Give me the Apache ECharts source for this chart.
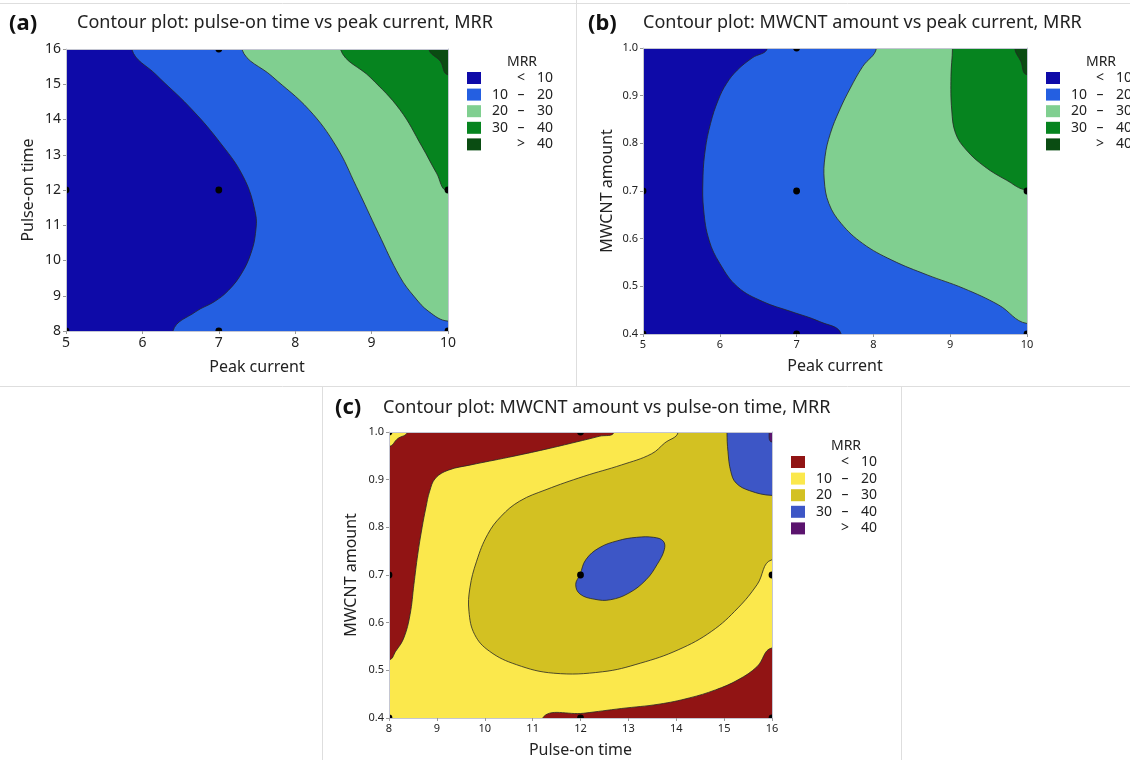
<!DOCTYPE html>
<html>
<head>
<meta charset="utf-8">
<title>MRR contour plots</title>
<script src="https://cdn.jsdelivr.net/npm/echarts@6/dist/echarts.min.js"></script>
<style>
  html, body { margin: 0; padding: 0; background: #fff; }
  #chart { width: 1130px; height: 760px; }
</style>
</head>
<body>
<div id="chart"></div>
<script>
// ---------- axis ticks ----------
const peakCurrentTicks = [5, 6, 7, 8, 9, 10];
const pulseOnTicks = [8, 9, 10, 11, 12, 13, 14, 15, 16];
const mwcntTicks = [0.4, 0.5, 0.6, 0.7, 0.8, 0.9, 1.0];

// MRR contour levels (legend classes: <10, 10-20, 20-30, 30-40, >40)
const mrrLevels = [10, 20, 30, 40];

// ---------- (a) pulse-on time vs peak current : contour lines [peak current, pulse-on time] ----------
const aLine10 = [[5.86, 16], [6.18, 15.27], [6.61, 14.37], [6.99, 13.42], [7.32, 12.38], [7.48, 11.34], [7.48, 10.77], [7.42, 10.2], [7.3, 9.64], [7.13, 9.16], [6.94, 8.83], [6.7, 8.55], [6.4, 8]];
const aLine20 = [[7.3, 16], [7.7, 15.22], [8.18, 14.28], [8.54, 13.23], [8.8, 12.1], [9.09, 10.77], [9.37, 9.54], [9.56, 8.97], [9.75, 8.55], [10, 8.28]];
const aLine30 = [[8.59, 16], [8.99, 15.18], [9.37, 14.28], [9.66, 13.23], [9.85, 12.48], [10, 11.96]];
const aLine40 = [[9.75, 16], [9.9, 15.65], [10, 15.27]];
const aDesignPoints = [[5, 8], [5, 12], [7, 8], [7, 12], [7, 16], [10, 8], [10, 12]];

// ---------- (b) MWCNT amount vs peak current : contour lines [peak current, MWCNT amount] ----------
const bLine10 = [[6.62, 1.0], [6.42, 0.979], [6.23, 0.954], [6.09, 0.926], [5.98, 0.891], [5.88, 0.842], [5.81, 0.786], [5.78, 0.723], [5.79, 0.66], [5.86, 0.597], [6.0, 0.548], [6.23, 0.499], [6.56, 0.468], [6.93, 0.447], [7.3, 0.426], [7.58, 0.4]];
const bLine20 = [[8.04, 1.0], [7.86, 0.961], [7.7, 0.916], [7.56, 0.87], [7.44, 0.821], [7.37, 0.772], [7.36, 0.723], [7.42, 0.674], [7.58, 0.632], [7.86, 0.59], [8.24, 0.555], [8.7, 0.524], [9.17, 0.496], [9.63, 0.461], [10, 0.422]];
const bLine30 = [[9.03, 1.0], [9.01, 0.94], [9.02, 0.87], [9.07, 0.821], [9.21, 0.786], [9.45, 0.751], [9.73, 0.723], [10, 0.702]];
const bLine40 = [[9.84, 1.0], [9.92, 0.972], [10, 0.944]];
const bDesignPoints = [[5, 0.4], [5, 0.7], [7, 0.4], [7, 0.7], [7, 1.0], [10, 0.4], [10, 0.7]];

// ---------- (c) MWCNT amount vs pulse-on time : contour lines [pulse-on time, MWCNT amount] ----------
const cLine10Corner = [[8.38, 1.0], [8.18, 0.986], [8, 0.97]];
const cLine10Left = [[12.7, 1.0], [12.39, 0.991], [11.91, 0.979], [11.28, 0.964], [10.5, 0.947], [9.71, 0.931], [9.24, 0.92], [8.97, 0.903], [8.85, 0.876], [8.77, 0.841], [8.69, 0.799], [8.6, 0.743], [8.52, 0.68], [8.44, 0.617], [8.31, 0.568], [8.14, 0.54], [8, 0.522]];
const cLine10Right = [[11.21, 0.4], [12.07, 0.41], [12.86, 0.42], [13.64, 0.429], [14.27, 0.442], [14.82, 0.459], [15.29, 0.48], [15.69, 0.508], [16, 0.547]];
const cLine20 = [[14.04, 1.0], [13.76, 0.977], [13.48, 0.954], [12.86, 0.931], [12.07, 0.907], [11.28, 0.879], [10.73, 0.855], [10.34, 0.823], [10.06, 0.785], [9.83, 0.729], [9.69, 0.673], [9.67, 0.624], [9.79, 0.575], [10.1, 0.54], [10.66, 0.512], [11.44, 0.494], [12.46, 0.497], [13.25, 0.515], [14.04, 0.543], [14.74, 0.582], [15.29, 0.631], [15.69, 0.68], [16, 0.732]];
const cLine30Centre = [[11.99, 0.701], [11.9, 0.68], [11.99, 0.66], [12.3, 0.649], [12.62, 0.648], [13.01, 0.662], [13.37, 0.69], [13.6, 0.722], [13.75, 0.753], [13.73, 0.771], [13.53, 0.779], [13.17, 0.779], [12.78, 0.772], [12.39, 0.757], [12.11, 0.732]];
const cLine30Corner = [[15.06, 1.0], [15.08, 0.959], [15.14, 0.917], [15.25, 0.893], [15.53, 0.877], [16, 0.867]];
const cLine40 = [[15.94, 1.0], [16, 0.979]];
const cDesignPoints = [[8, 0.4], [8, 0.7], [8, 1.0], [12, 0.4], [12, 0.7], [12, 1.0], [16, 0.4], [16, 0.7]];

// ---------- colours ----------
const blueGreen = ['#0e0aa8', '#245fe1', '#80cf90', '#06841f', '#0a4c12'];
const redYellow = ['#911414', '#fbe84c', '#d3c122', '#3d56c6', '#5b146e'];

const FONT = '"Noto Sans", "Open Sans", sans-serif';
const TEXT = '#222';

// ---------- panels ----------
const panels = [
  {
    tag: '(a)', title: 'Contour plot: pulse-on time vs peak current, MRR',
    xName: 'Peak current', yName: 'Pulse-on time',
    xTicks: peakCurrentTicks, yTicks: pulseOnTicks, yDigits: 0,
    grid: { left: 66, top: 49, width: 382, height: 282 },
    tickFont: 14, xNameGap: 28, yNameGap: 30,
    tagPos: [9, 24], titlePos: [77, 23], legendPos: [467, 72],
    palette: blueGreen, base: 0,
    regions: [
      { line: aLine10, corners: ['br', 'tr'], cls: 1 },
      { line: aLine20, corners: ['tr'], cls: 2 },
      { line: aLine30, corners: ['tr'], cls: 3 },
      { line: aLine40, corners: ['tr'], cls: 4 }
    ],
    points: aDesignPoints
  },
  {
    tag: '(b)', title: 'Contour plot: MWCNT amount vs peak current, MRR',
    xName: 'Peak current', yName: 'MWCNT amount',
    xTicks: peakCurrentTicks, yTicks: mwcntTicks, yDigits: 1,
    grid: { left: 643, top: 48, width: 384, height: 286 },
    tickFont: 11, xNameGap: 24, yNameGap: 28,
    tagPos: [588, 24], titlePos: [643, 23], legendPos: [1046, 72],
    palette: blueGreen, base: 0,
    regions: [
      { line: bLine10, corners: ['br', 'tr'], cls: 1 },
      { line: bLine20, corners: ['tr'], cls: 2 },
      { line: bLine30, corners: ['tr'], cls: 3 },
      { line: bLine40, corners: ['tr'], cls: 4 }
    ],
    points: bDesignPoints
  },
  {
    tag: '(c)', title: 'Contour plot: MWCNT amount vs pulse-on time, MRR',
    xName: 'Pulse-on time', yName: 'MWCNT amount',
    xTicks: pulseOnTicks, yTicks: mwcntTicks, yDigits: 1,
    grid: { left: 389, top: 432, width: 383, height: 286 },
    tickFont: 11, xNameGap: 24, yNameGap: 30,
    tagPos: [335, 408], titlePos: [383, 408], legendPos: [791, 456],
    palette: redYellow, base: 1,
    regions: [
      { line: cLine10Left, corners: ['tl'], cls: 0 },
      { line: cLine10Corner, corners: ['tl'], cls: 1 },
      { line: cLine10Right, corners: ['br'], cls: 0 },
      { line: cLine20, corners: ['tr'], cls: 2 },
      { line: cLine30Centre, closed: true, cls: 3 },
      { line: cLine30Corner, corners: ['tr'], cls: 3 },
      { line: cLine40, corners: ['tr'], cls: 4 }
    ],
    points: cDesignPoints
  }
];

// Close a contour that runs from one plot edge to another by walking round
// the outside of the plot (the part outside is clipped away).
function closeOutside(line, corners, xr, yr) {
  const px = (xr[1] - xr[0]) * 0.2, py = (yr[1] - yr[0]) * 0.2;
  const eps = 1e-6;
  const push = p => {
    if (Math.abs(p[0] - xr[1]) < eps) return [xr[1] + px, p[1]];
    if (Math.abs(p[0] - xr[0]) < eps) return [xr[0] - px, p[1]];
    if (Math.abs(p[1] - yr[0]) < eps) return [p[0], yr[0] - py];
    return [p[0], yr[1] + py];
  };
  const cornerPt = {
    tl: [xr[0] - px, yr[1] + py], tr: [xr[1] + px, yr[1] + py],
    bl: [xr[0] - px, yr[0] - py], br: [xr[1] + px, yr[0] - py]
  };
  return line.concat([push(line[line.length - 1])], corners.map(c => cornerPt[c]), [push(line[0])]);
}

function regionShapes(p) {
  const xr = [p.xTicks[0], p.xTicks[p.xTicks.length - 1]];
  const yr = [p.yTicks[0], p.yTicks[p.yTicks.length - 1]];
  const px = (xr[1] - xr[0]) * 0.2, py = (yr[1] - yr[0]) * 0.2;
  const shapes = [{
    pts: [[xr[0] - px, yr[0] - py], [xr[1] + px, yr[0] - py], [xr[1] + px, yr[1] + py], [xr[0] - px, yr[1] + py]],
    color: p.palette[p.base], smooth: 0, stroke: false
  }];
  p.regions.forEach(r => {
    shapes.push({
      pts: r.closed ? r.line : closeOutside(r.line, r.corners, xr, yr),
      color: p.palette[r.cls], smooth: 0.4, stroke: true
    });
  });
  return shapes;
}

function legendRows() {
  const rows = [['', '<', String(mrrLevels[0])]];
  for (let i = 0; i < mrrLevels.length - 1; i++) rows.push([String(mrrLevels[i]), '\u2013', String(mrrLevels[i + 1])]);
  rows.push(['', '>', String(mrrLevels[mrrLevels.length - 1])]);
  return rows;
}

const xAxes = [], yAxes = [], grids = [], series = [], graphics = [];

panels.forEach((p, i) => {
  grids.push(Object.assign({ containLabel: false }, p.grid));
  const xr = [p.xTicks[0], p.xTicks[p.xTicks.length - 1]];
  const yr = [p.yTicks[0], p.yTicks[p.yTicks.length - 1]];
  const frame = { show: true, lineStyle: { color: '#c4c6d2', width: 1 } };
  xAxes.push({
    gridIndex: i, type: 'value', position: 'bottom',
    min: xr[0], max: xr[1], interval: p.xTicks[1] - p.xTicks[0],
    axisLine: frame, axisTick: { show: true, length: 3, lineStyle: { color: '#9a9a9a' } },
    axisLabel: { fontSize: p.tickFont, color: TEXT, fontFamily: FONT, margin: 5 },
    splitLine: { show: false },
    name: p.xName, nameLocation: 'middle', nameGap: p.xNameGap,
    nameTextStyle: { fontSize: 16, color: TEXT, fontFamily: FONT }, z: 5
  });
  yAxes.push({
    gridIndex: i, type: 'value', position: 'left',
    min: yr[0], max: yr[1], interval: +(p.yTicks[1] - p.yTicks[0]).toFixed(6),
    axisLine: frame, axisTick: { show: true, length: 3, lineStyle: { color: '#9a9a9a' } },
    axisLabel: { fontSize: p.tickFont, color: TEXT, fontFamily: FONT, margin: 5,
      formatter: v => v.toFixed(p.yDigits) },
    splitLine: { show: false },
    name: p.yName, nameLocation: 'middle', nameGap: p.yNameGap,
    nameTextStyle: { fontSize: 16, color: TEXT, fontFamily: FONT }, z: 5
  });
  // filled contour bands
  series.push({
    type: 'custom', xAxisIndex: i, yAxisIndex: i, clip: true, silent: true, z: 2,
    data: regionShapes(p).map((s, k) => [k]),
    renderItem: (params, api) => {
      const s = regionShapes(p)[params.dataIndex];
      return {
        type: 'polygon',
        shape: { points: s.pts.map(q => api.coord(q)), smooth: s.smooth },
        style: { fill: s.color, stroke: s.stroke ? '#262626' : null, lineWidth: 0.8 }
      };
    }
  });
  // design points, cut off at the plot frame
  series.push({
    type: 'custom', xAxisIndex: i, yAxisIndex: i, clip: true, silent: true, z: 3,
    data: p.points,
    renderItem: (params, api) => {
      const c = api.coord([api.value(0), api.value(1)]);
      return { type: 'circle', shape: { cx: c[0], cy: c[1], r: 3.4 }, style: { fill: '#000' } };
    }
  });

  // panel tag and title
  graphics.push({ type: 'text', x: p.tagPos[0], y: p.tagPos[1],
    style: { text: p.tag, font: 'bold 22px ' + FONT, fill: '#111', verticalAlign: 'middle', align: 'left' } });
  graphics.push({ type: 'text', x: p.titlePos[0], y: p.titlePos[1],
    style: { text: p.title, font: '18px ' + FONT, fill: TEXT, verticalAlign: 'middle', align: 'left' } });

  // legend
  const L = p.legendPos[0], T = p.legendPos[1];
  graphics.push({ type: 'text', x: L + 55, y: T - 10,
    style: { text: 'MRR', font: '14px ' + FONT, fill: TEXT, align: 'center', verticalAlign: 'middle' } });
  legendRows().forEach((row, k) => {
    const top = T + k * 16.6, cy = top + 6;
    graphics.push({ type: 'rect', shape: { x: L, y: top, width: 14, height: 12 }, style: { fill: p.palette[k] } });
    if (row[0]) graphics.push({ type: 'text', x: L + 41, y: cy,
      style: { text: row[0], font: '14px ' + FONT, fill: TEXT, align: 'right', verticalAlign: 'middle' } });
    graphics.push({ type: 'text', x: L + 54, y: cy,
      style: { text: row[1], font: '14px ' + FONT, fill: TEXT, align: 'center', verticalAlign: 'middle' } });
    graphics.push({ type: 'text', x: L + 86, y: cy,
      style: { text: row[2], font: '14px ' + FONT, fill: TEXT, align: 'right', verticalAlign: 'middle' } });
  });
});

// top and right frame lines for each plot
panels.forEach((p, i) => {
  const xr = [p.xTicks[0], p.xTicks[p.xTicks.length - 1]];
  const yr = [p.yTicks[0], p.yTicks[p.yTicks.length - 1]];
  const frame = { show: true, lineStyle: { color: '#c4c6d2', width: 1 } };
  xAxes.push({ gridIndex: i, type: 'value', position: 'top', min: xr[0], max: xr[1],
    axisLine: frame, axisTick: { show: false }, axisLabel: { show: false }, splitLine: { show: false }, z: 5 });
  yAxes.push({ gridIndex: i, type: 'value', position: 'right', min: yr[0], max: yr[1],
    axisLine: frame, axisTick: { show: false }, axisLabel: { show: false }, splitLine: { show: false }, z: 5 });
});

// panel separators
const sep = { stroke: '#dedede', lineWidth: 1 };
graphics.push(
  { type: 'line', shape: { x1: 0, y1: 3.5, x2: 1130, y2: 3.5 }, style: sep },
  { type: 'line', shape: { x1: 576.5, y1: 0, x2: 576.5, y2: 386 }, style: sep },
  { type: 'line', shape: { x1: 0, y1: 386.5, x2: 1130, y2: 386.5 }, style: sep },
  { type: 'line', shape: { x1: 322.5, y1: 386, x2: 322.5, y2: 760 }, style: sep },
  { type: 'line', shape: { x1: 901.5, y1: 386, x2: 901.5, y2: 760 }, style: sep }
);

const chart = echarts.init(document.getElementById('chart'), null, { renderer: 'canvas' });
chart.setOption({
  animation: false,
  backgroundColor: '#ffffff',
  textStyle: { fontFamily: FONT },
  grid: grids,
  xAxis: xAxes,
  yAxis: yAxes,
  series: series,
  graphic: { elements: graphics }
});
</script>
</body>
</html>
